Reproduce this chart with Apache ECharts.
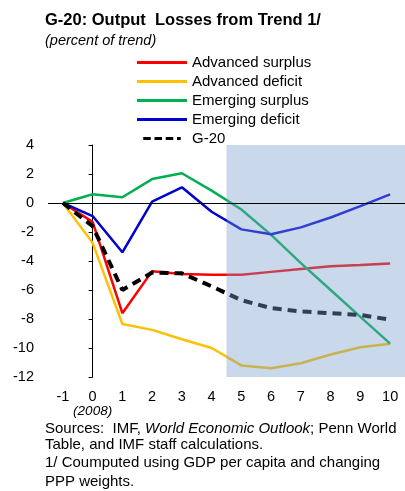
<!DOCTYPE html>
<html>
<head>
<meta charset="utf-8">
<script src="https://cdn.jsdelivr.net/npm/echarts@6/dist/echarts.min.js"></script>
<style>
  html, body { margin: 0; padding: 0; background: #fff; }
  #chart { width: 405px; height: 491px; }
</style>
</head>
<body>
<div id="chart"></div>
<script>
// years after the 2008 crisis
const years = ['-1', '0', '1', '2', '3', '4', '5', '6', '7', '8', '9', '10']

const advSurplus = [0, -1.3, -7.6, -4.7, -4.9, -4.95, -4.95, -4.75, -4.55, -4.37, -4.28, -4.18]
const advDeficit = [0, -2.75, -8.35, -8.75, -9.4, -10.0, -11.2, -11.4, -11.05, -10.45, -9.95, -9.7]
const emgSurplus = [0, 0.6, 0.4, 1.65, 2.05, 0.85, -0.45, -2.2, -4.15, -6.0, -7.85, -9.7]
const emgDeficit = [0, -0.9, -3.4, 0.1, 1.08, -0.6, -1.82, -2.15, -1.68, -1.0, -0.22, 0.6]
const g20 = [0, -1.6, -6.0, -4.8, -4.85, -5.75, -6.7, -7.25, -7.48, -7.6, -7.72, -8.05]

// shaded projection period (positions on the hidden value axis, band edges)
const projFrom = 4.5
const projTo = 10.5

const FONT = 'Liberation Sans, Arial, sans-serif'
const SOLID = 'path://M0,0h50v3h-50z'
const DASHED = 'path://M0,0h10v4h-10z M15,0h10v4h-10z M30,0h10v4h-10z M45,0h5v4h-5z'

const chart = echarts.init(document.getElementById('chart'))

const line = (name, data, color, extra) => Object.assign({
  name,
  type: 'line',
  data,
  symbol: 'none',
  z: 2,
  lineStyle: { color, width: 2.5 },
  itemStyle: { color }
}, extra)

chart.setOption({
  animation: false,
  textStyle: { fontFamily: FONT },
  title: {
    text: 'G-20: Output  Losses from Trend 1/',
    subtext: '(percent of trend)',
    left: 40,
    top: 7,
    itemGap: 4,
    textStyle: { fontFamily: FONT, fontSize: 16.5, fontWeight: 'bold', color: '#000' },
    subtextStyle: { fontFamily: FONT, fontSize: 14.5, fontStyle: 'italic', color: '#000' }
  },
  legend: {
    orient: 'vertical',
    left: 132,
    top: 49,
    itemWidth: 50,
    itemHeight: 3,
    itemGap: 2,
    data: [
      { name: 'Advanced surplus', icon: SOLID },
      { name: 'Advanced deficit', icon: SOLID },
      { name: 'Emerging surplus', icon: SOLID },
      { name: 'Emerging deficit', icon: SOLID },
      { name: 'G-20', icon: DASHED, itemStyle: { color: '#000' } }
    ],
    textStyle: { fontFamily: FONT, fontSize: 15, color: '#000', padding: [0, 0, 0, 0], lineHeight: 17 }
  },
  grid: { left: 48, top: 145, width: 360, height: 232, containLabel: false },
  xAxis: [
    {
      type: 'category',
      data: years,
      boundaryGap: true,
      axisLine: { show: false },
      axisTick: { show: false },
      splitLine: { show: false },
      axisLabel: {
        color: '#000',
        fontSize: 14.5,
        fontFamily: FONT,
        margin: 13,
        lineHeight: 14,
        interval: 0,
        formatter: (v) => v === '0' ? '0\n{i|(2008)}' : v,
        rich: { i: { fontStyle: 'italic', fontSize: 13.5, fontFamily: FONT, color: '#000', lineHeight: 14 } }
      }
    },
    { type: 'value', min: -1.5, max: 10.5, show: false }
  ],
  yAxis: {
    type: 'value',
    min: -12,
    max: 4,
    interval: 2,
    axisLine: { show: true, lineStyle: { color: '#000', width: 1 } },
    axisTick: { show: true, inside: false, length: 4, lineStyle: { color: '#000' } },
    splitLine: { show: false },
    axisLabel: { color: '#000', fontSize: 14.5, fontFamily: FONT, margin: 14 }
  },
  series: [
    line('Advanced surplus', advSurplus, '#ff0000'),
    line('Advanced deficit', advDeficit, '#ffc000'),
    line('Emerging surplus', emgSurplus, '#00b050'),
    line('Emerging deficit', emgDeficit, '#0000d0'),
    line('G-20', g20, '#000000', { lineStyle: { color: '#000', width: 4, type: [9, 6] } }),
    {
      name: 'shade',
      type: 'line',
      xAxisIndex: 1,
      data: [],
      z: 3,
      silent: true,
      // projection shading sits over the lines, tinting them like the original
      markArea: {
        silent: true,
        z: 5,
        itemStyle: { color: 'rgba(120, 157, 205, 0.4)' },
        data: [[{ xAxis: projFrom }, { xAxis: projTo }]]
      },
      markLine: {
        silent: true,
        z: 6,
        symbol: 'none',
        label: { show: false },
        lineStyle: { color: '#000', width: 1, type: 'solid' },
        data: [{ yAxis: 0 }]
      }
    }
  ],
  graphic: [
    {
      type: 'text',
      left: 45,
      top: 421,
      style: {
        text: 'Sources:  IMF, {i|World Economic Outlook}; Penn World\nTable, and IMF staff calculations.',
        font: '15px ' + FONT,
        fill: '#000',
        lineHeight: 16,
        rich: { i: { fontStyle: 'italic', fontSize: 15, fontFamily: FONT, fill: '#000' } }
      }
    },
    {
      type: 'text',
      left: 45,
      top: 453,
      style: {
        text: '1/ Coumputed using GDP per capita and changing\nPPP weights.',
        font: '15px ' + FONT,
        fill: '#000',
        lineHeight: 19
      }
    }
  ]
})
</script>
</body>
</html>
